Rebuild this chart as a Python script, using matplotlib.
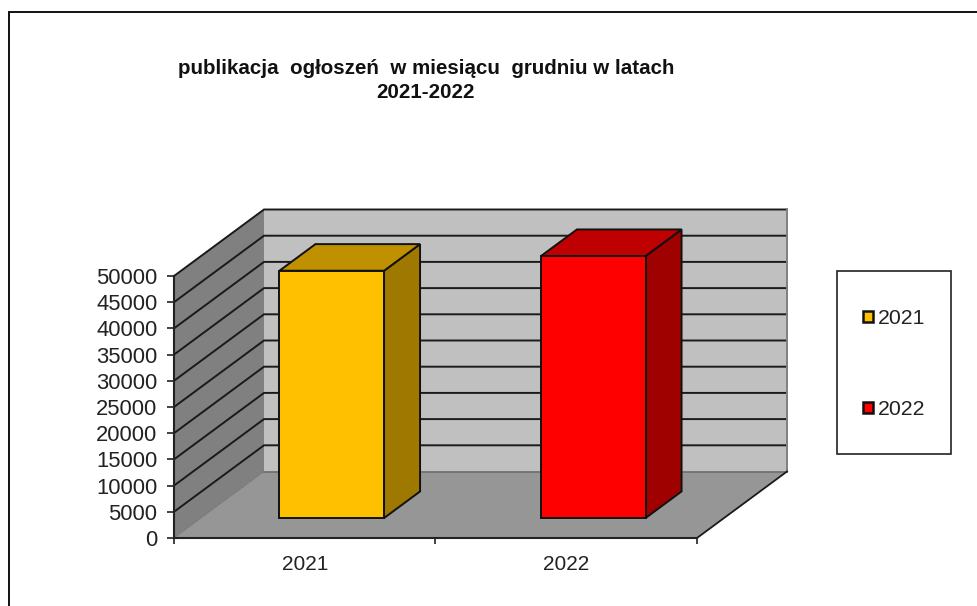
import matplotlib
matplotlib.use('Agg')
import matplotlib.pyplot as plt
from matplotlib.patches import Patch, Rectangle

plt.rcParams['font.family'] = ['Liberation Sans', 'DejaVu Sans']

# dane
lata = ['2021', '2022']
wartosci = [47200, 50000]
kolory_przod = ['#FFC000', '#FF0000']
kolory_gora = ['#BF9000', '#BF0000']
kolory_bok = ['#9F7800', '#9F0000']
poziomy = list(range(0, 50001, 5000))
tytul = 'publikacja  ogłoszeń  w miesiącu  grudniu w latach\n2021-2022'

W, H = 978, 606
fig = plt.figure(figsize=(W / 100, H / 100), dpi=100)
ax = fig.add_axes([174 / W, 1 - 538 / H, 523 / W, 262 / H])
ax.set_xlim(0, 2)
ax.set_ylim(0, 50000)
ax.patch.set_alpha(0)

# przesuniecie glebi 3D w jednostkach danych
DX = 90 / 261.5
DY = 66.5 / 262 * 50000


def p(x, y, d=0.0):
    return x + DX * d, y + DY * d


def wielokat(punkty, kolor, edge='none', lw=0.0, z=1):
    xs = [q[0] for q in punkty]
    ys = [q[1] for q in punkty]
    ax.fill(xs, ys, facecolor=kolor, edgecolor=edge, linewidth=lw, zorder=z,
            clip_on=False, joinstyle='miter')


# sciany i podloga
wielokat([p(0, 0, 1), p(2, 0, 1), p(2, 50000, 1), p(0, 50000, 1)], '#C0C0C0', z=1)
wielokat([p(0, 0), p(0, 0, 1), p(0, 50000, 1), p(0, 50000)], '#808080', z=1)
wielokat([p(0, 0), p(2, 0), p(2, 0, 1), p(0, 0, 1)], '#969696', z=1)

for v in poziomy[1:]:
    a, b, c = p(0, v), p(0, v, 1), p(2, v, 1)
    ax.plot([a[0], b[0], c[0]], [a[1], b[1], c[1]], color='#1a1a1a', lw=1.4,
            zorder=2, clip_on=False, solid_joinstyle='miter')

a, b = p(0, 0, 1), p(2, 0, 1)
ax.plot([a[0], b[0]], [a[1], b[1]], color='#6e6e6e', lw=1.2, zorder=2, clip_on=False)
a, b = p(2, 0, 1), p(2, 50000, 1)
ax.plot([a[0], b[0]], [a[1], b[1]], color='#808080', lw=1.4, zorder=2, clip_on=False)
a, b = p(0, 0), p(0, 0, 1)
ax.plot([a[0], b[0]], [a[1], b[1]], color='#6e6e6e', lw=0.5, zorder=2, clip_on=False)
a, b = p(2, 0), p(2, 0, 1)
ax.plot([a[0], b[0]], [a[1], b[1]], color='#1a1a1a', lw=1.3, zorder=2, clip_on=False)

# slupki
SZER = 0.4
D0, D1 = 0.3, 0.7
for i, v in enumerate(wartosci):
    x0 = i + 0.5 - SZER / 2
    x1 = x0 + SZER
    edge = '#111111'
    wielokat([p(x1, 0, D0), p(x1, 0, D1), p(x1, v, D1), p(x1, v, D0)],
             kolory_bok[i], edge, 1.4, 3)
    wielokat([p(x0, v, D0), p(x1, v, D0), p(x1, v, D1), p(x0, v, D1)],
             kolory_gora[i], edge, 1.4, 3)
    wielokat([p(x0, 0, D0), p(x1, 0, D0), p(x1, v, D0), p(x0, v, D0)],
             kolory_przod[i], edge, 1.4, 4)

# osie
for s in ['top', 'right']:
    ax.spines[s].set_visible(False)
for s in ['left', 'bottom']:
    ax.spines[s].set_linewidth(1.5)
    ax.spines[s].set_color('#222222')
    ax.spines[s].set_zorder(5)
ax.set_yticks(poziomy)
ax.set_xticks([0, 1, 2])
ax.set_xticklabels([])
ax.set_xticks([0.5, 1.5], labels=lata, minor=True)
ax.tick_params(axis='x', which='major', length=4, width=1.2, color='#222222')
ax.tick_params(axis='x', which='minor', length=0, pad=12, labelsize=15, labelcolor='#222222')
ax.tick_params(axis='y', length=5, width=1.2, color='#222222', pad=7,
               labelsize=15.8, labelcolor='#222222')

fig.text(426 / W, 1 - 80.5 / H, tytul, ha='center', va='center', fontsize=14.8,
         fontweight='bold', color='#111111', linespacing=1.35)

# ramka wykresu i legendy
fig.add_artist(Rectangle((8.5 / W, -0.1), 2, 1.1 - 12.5 / H, transform=fig.transFigure,
                         fill=False, edgecolor='#111111', linewidth=1.4))
fig.add_artist(Rectangle((837.5 / W, 1 - 454 / H), 113.5 / W, 183 / H, transform=fig.transFigure,
                         facecolor='white', edgecolor='#222222', linewidth=1.2))
uchwyty = [Patch(facecolor=k, edgecolor='#111111', linewidth=1.8) for k in kolory_przod]
leg = fig.legend(uchwyty, lata, loc='center left', bbox_to_anchor=(863 / W, 1 - 364 / H),
                 frameon=False, fontsize=15.3, handlelength=0.45, handleheight=0.45,
                 handletextpad=0.25, labelspacing=3.4, borderpad=0, borderaxespad=0,
                 labelcolor='#222222')
leg.set_zorder(10)

fig.savefig('out.png', dpi=100)
